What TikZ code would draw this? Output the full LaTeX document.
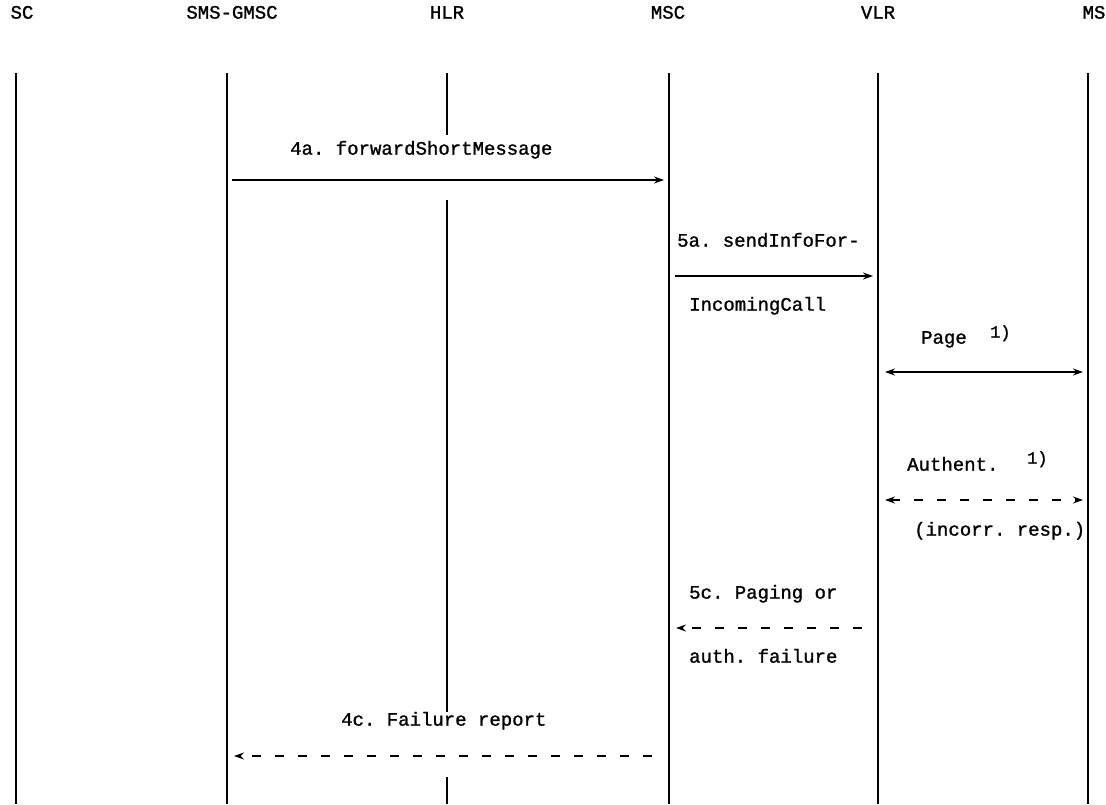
\documentclass[tikz,border=0pt]{standalone}
\usepackage{fontspec}
\setmainfont{Liberation Mono}[FakeBold=1.2]
\usetikzlibrary{arrows.meta}
\begin{document}
\frenchspacing
\begin{tikzpicture}[x=1pt,y=-1pt,
  hdr/.style={font=\fontsize{19}{19}\selectfont\frenchspacing, inner sep=0pt, anchor=mid},
  lbl/.style={font=\fontsize{19}{19}\selectfont\frenchspacing, inner sep=0pt, anchor=mid west},
  sup/.style={font=\fontsize{17}{17}\selectfont, inner sep=0pt, anchor=mid west},
  life/.style={line width=1.8pt},
  msg/.style={line width=1.3pt, -{Stealth[length=10pt,width=7pt]}},
  dmsg/.style={msg, dash pattern=on 9pt off 14pt},
  bmsg/.style={line width=1.3pt, {Stealth[length=10pt,width=7pt]}-{Stealth[length=10pt,width=7pt]}},
  bdmsg/.style={bmsg, dash pattern=on 9pt off 14pt}]
\useasboundingbox (0,0) rectangle (1106,804);
% headers
\node[hdr] (hSC)   at (22,16)   {SC};
\node[hdr] (hGMSC) at (232,16)  {SMS-GMSC};
\node[hdr] (hHLR)  at (447,16)  {HLR};
\node[hdr] (hMSC)  at (668,16)  {MSC};
\node[hdr] (hVLR)  at (878,16)  {VLR};
\node[hdr] (hMS)   at (1094,16) {MS};
% lifelines
\coordinate (sc1) at (16,73);    \coordinate (sc2) at (16,804);
\coordinate (gm1) at (227,73);   \coordinate (gm2) at (227,804);
\coordinate (hl1) at (447,73);   \coordinate (hl2) at (447,135);
\coordinate (hl3) at (447,200);  \coordinate (hl4) at (447,712);
\coordinate (hl5) at (447,777);  \coordinate (hl6) at (447,804);
\coordinate (ms1) at (669,73);   \coordinate (ms2) at (669,804);
\coordinate (vl1) at (878,73);   \coordinate (vl2) at (878,804);
\coordinate (mo1) at (1088,73);  \coordinate (mo2) at (1088,804);
\draw[life] (sc1) -- (sc2);
\draw[life] (gm1) -- (gm2);
\draw[life] (hl1) -- (hl2) (hl3) -- (hl4) (hl5) -- (hl6);
\draw[life] (ms1) -- (ms2);
\draw[life] (vl1) -- (vl2);
\draw[life] (mo1) -- (mo2);
% 4a
\node[lbl] (l4a) at (290,152) {4a. forwardShortMessage};
\coordinate (a4s) at (232,180); \coordinate (a4e) at (664,180);
\draw[msg] (a4s) -- (a4e);
% 5a
\node[lbl] (l5a) at (677,244) {5a. sendInfoFor-};
\node[lbl] (l5b) at (689,308) {IncomingCall};
\coordinate (a5s) at (675,276); \coordinate (a5e) at (873,276);
\draw[msg] (a5s) -- (a5e);
% Page
\node[lbl] (lpg) at (921,341) {Page};
\node[sup] (lpgs) at (990,335) {1)};
\coordinate (pgs) at (885,372); \coordinate (pge) at (1083,372);
\draw[bmsg] (pgs) -- (pge);
% Authent
\node[lbl] (lau) at (907,468) {Authent.};
\node[sup] (laus) at (1027,461) {1)};
\coordinate (aus) at (885,500); \coordinate (aue) at (1083,500);
\draw[bdmsg] (aus) -- (aue);
\node[lbl] (linc) at (914,533) {(incorr. resp.)};
% 5c
\node[lbl] (l5c) at (689,596) {5c. Paging or};
\node[lbl] (l5d) at (689,660) {auth. failure};
\coordinate (c5s) at (862,628); \coordinate (c5e) at (676,628);
\draw[dmsg] (c5s) -- (c5e);
% 4c
\node[lbl] (l4c) at (341,723) {4c. Failure report};
\coordinate (c4s) at (652,756); \coordinate (c4e) at (234,756);
\draw[dmsg] (c4s) -- (c4e);
\end{tikzpicture}
\end{document}
